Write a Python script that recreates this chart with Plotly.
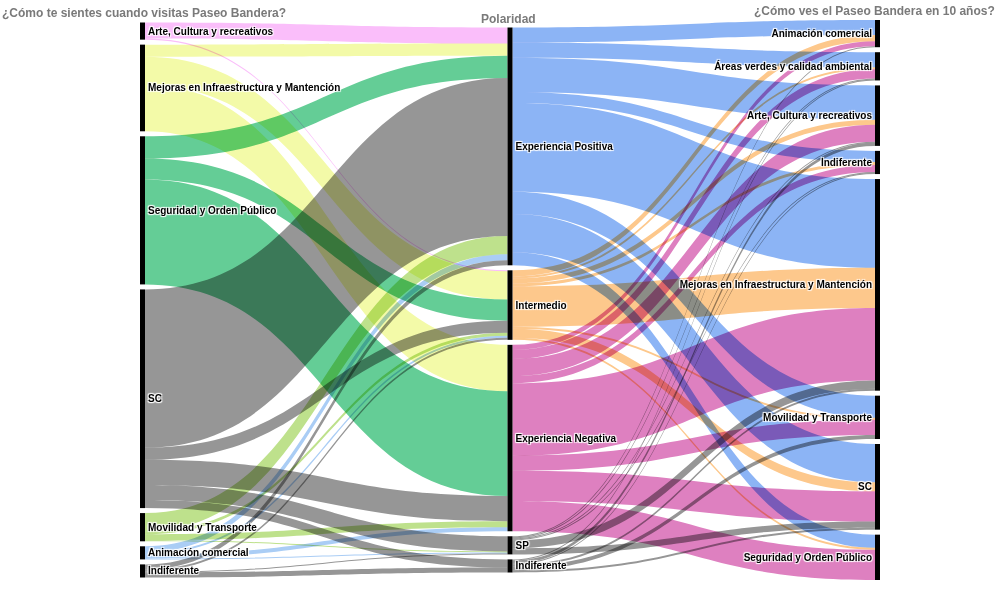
import plotly.graph_objects as go

# Column 1: "¿Cómo te sientes cuando visitas Paseo Bandera?"
left_labels = ["Arte, Cultura y recreativos", "Mejoras en Infraestructura y Mantención",
               "Seguridad y Orden Público", "SC", "Movilidad y Transporte",
               "Animación comercial", "Indiferente"]
# Column 2: "Polaridad"
mid_labels = ["Experiencia Positiva", "Intermedio", "Experiencia Negativa", "SP", "Indiferente"]
# Column 3: "¿Cómo ves el Paseo Bandera en 10 años?"
right_labels = ["Animación comercial", "Áreas verdes y calidad ambiental",
                "Arte, Cultura y recreativos", "Indiferente",
                "Mejoras en Infraestructura y Mantención", "Movilidad y Transporte",
                "SC", "Seguridad y Orden Público"]

# Flows column 1 -> column 2  (rows: left_labels, cols: mid_labels)
flows_left_mid = [
    [16, 1, 0, 0, 0],
    [12, 28, 46, 0, 0],
    [22, 21, 104, 0, 0],
    [157, 12, 25, 15, 8],
    [18, 3, 6, 1, 0],
    [6, 2, 4, 1, 0],
    [5, 2, 0, 1, 5],
]
# Flows column 2 -> column 3  (rows: mid_labels, cols: right_labels)
flows_mid_right = [
    [15, 15, 34, 11, 88, 22, 38, 13],
    [6, 2, 5, 3, 40, 2, 9, 2],
    [5, 9, 17, 7, 72, 15, 30, 30],
    [1, 1, 1, 1, 8, 0, 6, 0],
    [0, 1, 3, 1, 2, 4, 2, 0],
]

left_colors = ["rgb(250,190,250)", "rgb(243,250,168)", "rgb(100,205,150)",
               "rgb(150,150,150)", "rgb(190,225,140)", "rgb(170,205,245)",
               "rgb(150,150,150)"]
mid_colors = ["rgb(140,180,245)", "rgb(253,200,140)", "rgb(222,128,192)",
              "rgb(150,150,150)", "rgb(150,150,150)"]

labels = left_labels + mid_labels + right_labels
nL, nM = len(left_labels), len(mid_labels)

src, tgt, val, col = [], [], [], []
for i, row in enumerate(flows_left_mid):
    for j, v in enumerate(row):
        if v > 0:
            src.append(i); tgt.append(nL + j); val.append(v); col.append(left_colors[i])
for i, row in enumerate(flows_mid_right):
    for j, v in enumerate(row):
        if v > 0:
            src.append(nL + i); tgt.append(nL + nM + j); val.append(v); col.append(mid_colors[i])

# keep the column order of the nodes: stack each column from its totals
W, H, PAD, THICK = 740, 560, 5, 5
left_tot = [sum(r) for r in flows_left_mid]
mid_tot = [sum(r) for r in flows_mid_right]
right_tot = [sum(flows_mid_right[i][j] for i in range(nM)) for j in range(len(right_labels))]
columns = [left_tot, mid_tot, right_tot]
ky = min((H - (len(c) - 1) * PAD) / sum(c) for c in columns)
col_x = [THICK / 2 / W, 0.5, 1 - THICK / 2 / W]
node_x, node_y = [], []
for cx, c in zip(col_x, columns):
    extent = sum(c) * ky + (len(c) - 1) * PAD
    y = (H - extent) / 2
    for v in c:
        node_x.append(cx)
        node_y.append((y + v * ky / 2) / H)
        y += v * ky + PAD

fig = go.Figure(go.Sankey(
    arrangement="fixed",
    node=dict(label=labels, color="black", pad=PAD, thickness=THICK,
              line=dict(width=0), x=node_x, y=node_y),
    link=dict(source=src, target=tgt, value=val, color=col),
    textfont=dict(family="Arial, Liberation Sans", size=10, color="black", weight="bold"),
))

hdr = dict(family="Arial, Liberation Sans", size=12, color="#7a7a7a", weight="bold")
fig.update_layout(
    width=1000, height=600,
    margin=dict(l=140, r=120, t=20, b=20),
    paper_bgcolor="white",
    annotations=[
        dict(text="¿Cómo te sientes cuando visitas Paseo Bandera?", x=-140/740, y=1.0125,
             xref="paper", yref="paper", xanchor="left", yanchor="middle",
             showarrow=False, font=hdr),
        dict(text="Polaridad", x=0.4986, y=1.0018, xref="paper", yref="paper",
             xanchor="center", yanchor="middle", showarrow=False, font=hdr),
        dict(text="¿Cómo ves el Paseo Bandera en 10 años?", x=857/740, y=1.016,
             xref="paper", yref="paper", xanchor="right", yanchor="middle",
             showarrow=False, font=hdr),
    ],
)

css = ("var s=document.createElement('style');"
       "s.textContent='body{margin:0}.sankey-link{mix-blend-mode:multiply}';"
       "document.head.appendChild(s);")
fig.write_html("out.html", post_script=css, config={"displayModeBar": False})
